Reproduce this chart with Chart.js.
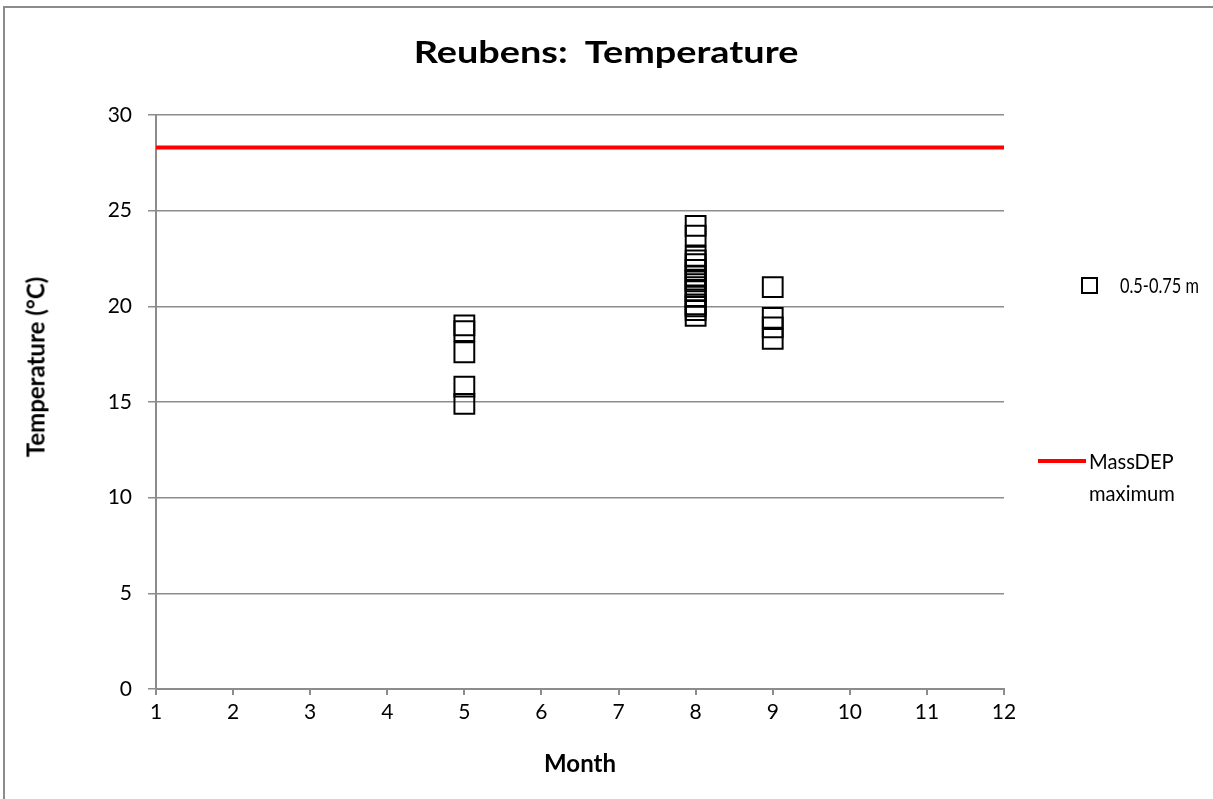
<!DOCTYPE html>
<html>
<head>
<meta charset="utf-8">
<script src="https://cdn.jsdelivr.net/npm/chart.js@4.4.1/dist/chart.umd.min.js"></script>
<style>
  html, body { margin: 0; padding: 0; background: #fff; }
  #wrap { position: relative; width: 1213px; height: 799px; overflow: hidden; font-family: Lato, sans-serif; color: #000; }
  #chart { position: absolute; left: 0; top: 0; }
  .title { position: absolute; left: 0; width: 1213px; top: 33px; text-align: center; font-weight: bold; font-size: 30px; line-height: 36px; transform: scaleX(1.26); transform-origin: 608px 0; white-space: nowrap; }
  .ytitle { position: absolute; left: 35px; top: 367px; width: 0; height: 0; }
  .ytitle span { position: absolute; left: 0; top: 0; transform: translate(-50%, -50%) rotate(-90deg); font-weight: bold; font-size: 24px; white-space: nowrap; }
  .legend { position: absolute; font-size: 21px; line-height: 32px; white-space: nowrap; transform-origin: 0 0; }
  .sq { position: absolute; width: 13px; height: 13px; border: 2px solid #000; }
  .redline { position: absolute; height: 4px; background: #ff0000; }
</style>
</head>
<body>
<div id="wrap">
  <canvas id="chart" width="1213" height="799"></canvas>
  <div class="title">Reubens:&nbsp; Temperature</div>
  <div class="ytitle"><span>Temperature (°C)</span></div>
  <div class="sq" style="left:1081px; top:277px;"></div>
  <div class="legend" style="left:1120px; top:269px; transform: scaleX(0.78);">0.5-0.75 m</div>
  <div class="redline" style="left:1038px; top:459px; width:48px;"></div>
  <div class="legend" style="left:1089px; top:445px; transform: scaleX(0.96);">MassDEP<br>maximum</div>
</div>
<script>
// sampled temperatures, 0.5-0.75 m depth
const sampleMonths = [
  5, 5, 5, 5, 5,
  8, 8, 8, 8, 8, 8, 8, 8, 8, 8, 8, 8, 8, 8, 8, 8,
  9, 9, 9, 9
];
const sampleTemps = [
  19.0, 18.7, 17.6, 15.8, 14.9,
  24.2, 23.7, 22.6, 22.4, 22.2, 21.9, 21.6, 21.4, 21.3, 21.0, 20.8, 20.5, 20.1, 20.0, 19.8, 19.5,
  21.0, 19.4, 18.9, 18.3
];

// MassDEP maximum
const limitMonths = [1, 12];
const limitTemps = [28.3, 28.3];

const xTicks = [1, 2, 3, 4, 5, 6, 7, 8, 9, 10, 11, 12];
const yTicks = [0, 5, 10, 15, 20, 25, 30];

Chart.defaults.font.family = 'Lato, sans-serif';
Chart.defaults.color = '#000';

const frame = {
  id: 'frame',
  beforeDraw(chart) {
    const c = chart.ctx;
    c.save();
    c.fillStyle = '#fff';
    c.fillRect(0, 0, chart.width, chart.height);
    c.strokeStyle = '#8c8c8c';
    c.lineWidth = 2;
    c.strokeRect(4, 7, chart.width + 20, chart.height + 20);
    c.restore();
  }
};

const ctx = document.getElementById('chart').getContext('2d');
new Chart(ctx, {
  type: 'scatter',
  data: {
    datasets: [
      {
        label: 'MassDEP maximum',
        type: 'line',
        data: limitMonths.map((m, i) => ({ x: m, y: limitTemps[i] })),
        borderColor: '#ff0000',
        borderWidth: 4,
        pointRadius: 0,
        fill: false,
        order: 2
      },
      {
        label: '0.5-0.75 m',
        data: sampleMonths.map((m, i) => ({ x: m, y: sampleTemps[i] })),
        pointStyle: 'rect',
        pointRadius: 14,
        pointBorderWidth: 2,
        borderColor: '#000',
        backgroundColor: 'rgba(0,0,0,0)',
        order: 1
      }
    ]
  },
  options: {
    responsive: false,
    animation: false,
    layout: { padding: { top: 115, right: 209, bottom: 0, left: 0 } },
    plugins: {
      legend: { display: false },
      tooltip: { enabled: false }
    },
    scales: {
      x: {
        type: 'linear',
        min: 1,
        max: 12,
        afterBuildTicks: (s) => { s.ticks = xTicks.map(v => ({ value: v })); },
        afterFit: (s) => { s.height = 110; },
        ticks: { font: { size: 21 }, padding: 5, maxRotation: 0 },
        grid: { drawOnChartArea: false, drawTicks: true, tickLength: 6, color: '#8c8c8c', lineWidth: 2 },
        border: { color: '#8c8c8c', width: 2 },
        title: { display: true, text: 'Month', font: { size: 24, weight: 'bold' }, padding: { top: 0, bottom: 20 } }
      },
      y: {
        min: 0,
        max: 30,
        afterBuildTicks: (s) => { s.ticks = yTicks.map(v => ({ value: v })); },
        afterFit: (s) => { s.width = 156; },
        ticks: { font: { size: 21 }, padding: 16 },
        grid: { drawTicks: true, tickLength: 8, color: '#8c8c8c', lineWidth: 1.5 },
        border: { color: '#8c8c8c', width: 2 },
        title: { display: false }
      }
    }
  },
  plugins: [frame]
});
</script>
</body>
</html>
